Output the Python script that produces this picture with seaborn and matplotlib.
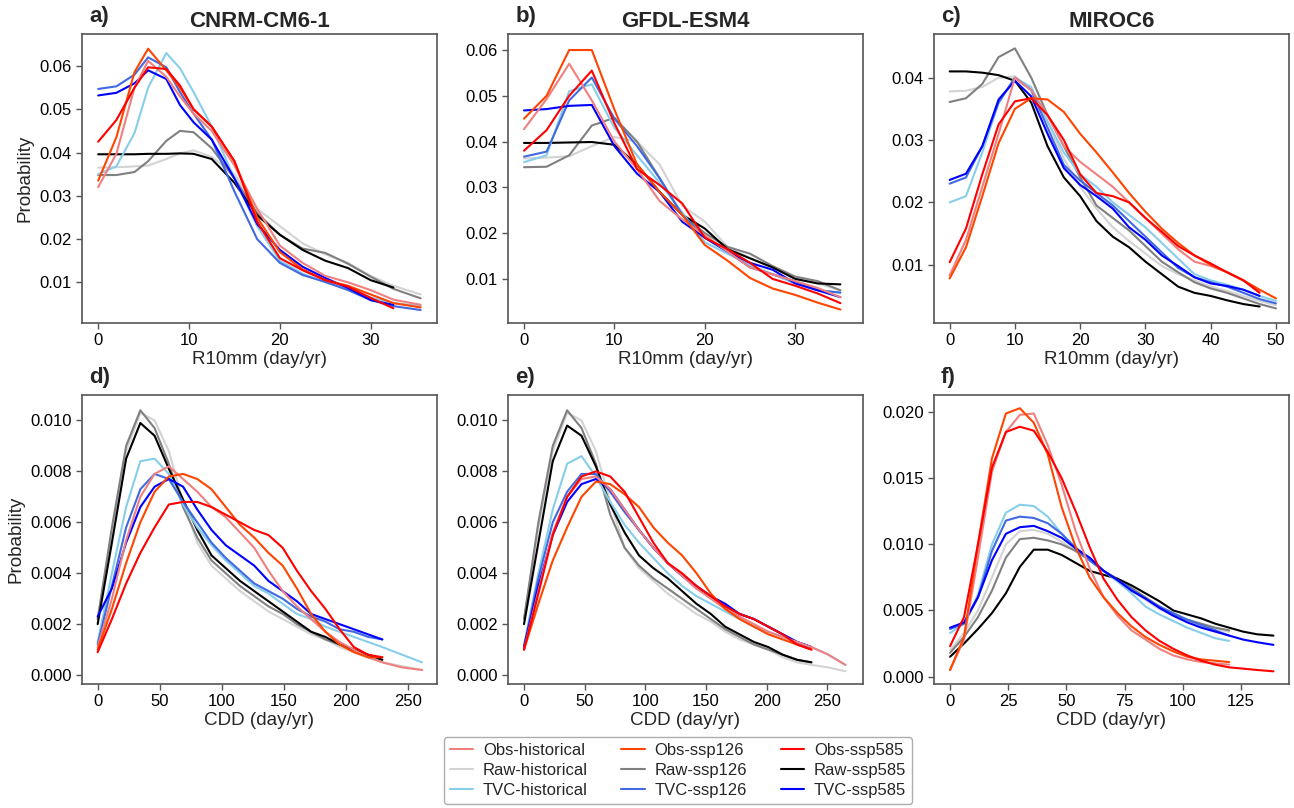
import numpy as np
import pandas as pd
import matplotlib
matplotlib.use("Agg")
import matplotlib.pyplot as plt
import matplotlib.transforms as mtransforms
from matplotlib.lines import Line2D
import seaborn as sns

# ---------------- data ----------------
series_names = ["Obs-historical", "Obs-ssp126", "Obs-ssp585",
                "Raw-historical", "Raw-ssp126", "Raw-ssp585",
                "TVC-historical", "TVC-ssp126", "TVC-ssp585"]
series_colors = ["lightcoral", "orangered", "red",
                 "lightgray", "gray", "black",
                 "skyblue", "royalblue", "blue"]

model_titles = ["CNRM-CM6-1", "GFDL-ESM4", "MIROC6"]
panel_letters = ["a)", "b)", "c)", "d)", "e)", "f)"]

# x grids
x_a = [0, 2, 4, 5.5, 7.5, 9, 10.5, 12.5, 15, 17.5, 20, 22.5, 25, 27.5, 30, 32.5, 35.5]
x_b = list(np.arange(0, 35.1, 2.5))
x_c = list(np.arange(0, 50.1, 2.5))
x_d = list(np.linspace(0, 229, 21)) + [245, 261]
x_e = list(np.linspace(0, 237, 21)) + [251, 265]
x_f = list(np.arange(0, 120.1, 6)) + [126, 132, 139]

# panel a: CNRM-CM6-1, R10mm
a_obs_hist = [0.032, 0.0397, 0.055, 0.0612, 0.0575, 0.053, 0.049, 0.045, 0.037, 0.027, 0.0185, 0.0145, 0.0115, 0.0100, 0.0082, 0.0060, 0.0048]
a_obs_126 = [0.0335, 0.0435, 0.0586, 0.064, 0.059, 0.055, 0.050, 0.046, 0.038, 0.025, 0.017, 0.013, 0.0105, 0.0092, 0.0072, 0.0052, 0.0042]
a_obs_585 = [0.0425, 0.0475, 0.055, 0.0597, 0.0593, 0.0555, 0.050, 0.046, 0.038, 0.024, 0.0156, 0.0128, 0.0105, 0.009, 0.0064, 0.0040]
a_raw_hist = [0.0365, 0.0366, 0.0368, 0.037, 0.0385, 0.0398, 0.0405, 0.039, 0.035, 0.027, 0.023, 0.019, 0.0165, 0.0145, 0.0115, 0.0092, 0.0072]
a_raw_126 = [0.0348, 0.0348, 0.0355, 0.038, 0.0427, 0.045, 0.0447, 0.041, 0.034, 0.026, 0.021, 0.0178, 0.0168, 0.0143, 0.0113, 0.0085, 0.0063]
a_raw_585 = [0.0396, 0.0396, 0.0396, 0.0397, 0.0397, 0.0398, 0.0397, 0.0385, 0.033, 0.0255, 0.021, 0.0175, 0.015, 0.0133, 0.0105, 0.0088]
a_tvc_hist = [0.035, 0.0368, 0.0445, 0.055, 0.063, 0.0595, 0.054, 0.046, 0.034, 0.023, 0.015, 0.012, 0.010, 0.0085, 0.0065, 0.0052, 0.0045]
a_tvc_126 = [0.0547, 0.0553, 0.058, 0.062, 0.0597, 0.054, 0.049, 0.043, 0.031, 0.020, 0.0145, 0.0117, 0.0101, 0.0082, 0.0059, 0.0045, 0.0036]
a_tvc_585 = [0.0532, 0.0538, 0.056, 0.059, 0.057, 0.051, 0.047, 0.043, 0.034, 0.0235, 0.0175, 0.0136, 0.011, 0.0087, 0.0059, 0.0048]

# panel b: GFDL-ESM4, R10mm
b_obs_hist = [0.0427, 0.0493, 0.057, 0.049, 0.040, 0.034, 0.027, 0.023, 0.0195, 0.016, 0.0125, 0.011, 0.0095, 0.008, 0.006]
b_obs_126 = [0.045, 0.050, 0.060, 0.060, 0.047, 0.035, 0.029, 0.024, 0.0174, 0.014, 0.0102, 0.0079, 0.0065, 0.0048, 0.0033]
b_obs_585 = [0.038, 0.0425, 0.050, 0.0555, 0.044, 0.034, 0.0305, 0.0265, 0.019, 0.0165, 0.0135, 0.0100, 0.0085, 0.0068, 0.0047]
b_raw_hist = [0.0363, 0.0365, 0.0368, 0.039, 0.041, 0.040, 0.035, 0.026, 0.0225, 0.017, 0.0145, 0.0125, 0.010, 0.009, 0.0075]
b_raw_126 = [0.0344, 0.0345, 0.037, 0.0435, 0.0452, 0.040, 0.032, 0.024, 0.020, 0.017, 0.0155, 0.0128, 0.0105, 0.0095, 0.0075]
b_raw_585 = [0.0397, 0.0397, 0.0398, 0.0399, 0.0393, 0.035, 0.029, 0.024, 0.021, 0.0165, 0.0145, 0.0125, 0.010, 0.009, 0.0088]
b_tvc_hist = [0.0355, 0.037, 0.051, 0.0525, 0.043, 0.037, 0.031, 0.0245, 0.018, 0.0155, 0.013, 0.011, 0.009, 0.0075, 0.007]
b_tvc_126 = [0.0367, 0.0378, 0.049, 0.054, 0.045, 0.039, 0.032, 0.024, 0.019, 0.016, 0.0125, 0.011, 0.0095, 0.0075, 0.007]
b_tvc_585 = [0.0468, 0.0471, 0.0478, 0.048, 0.039, 0.033, 0.029, 0.0225, 0.019, 0.016, 0.0135, 0.012, 0.009, 0.0075, 0.006]

# panel c: MIROC6, R10mm
c_obs_hist = [0.0083, 0.014, 0.0225, 0.031, 0.040, 0.038, 0.034, 0.029, 0.0265, 0.0245, 0.0225, 0.020, 0.0175, 0.015, 0.0125, 0.0105, 0.0098, 0.0088, 0.0075, 0.0058]
c_obs_126 = [0.0078, 0.0128, 0.021, 0.0295, 0.035, 0.0367, 0.0365, 0.0345, 0.031, 0.028, 0.0248, 0.0215, 0.0185, 0.0158, 0.0135, 0.0115, 0.0100, 0.0088, 0.0075, 0.006, 0.0046]
c_obs_585 = [0.0104, 0.0158, 0.0245, 0.0325, 0.0362, 0.0367, 0.034, 0.030, 0.0245, 0.0215, 0.021, 0.020, 0.0175, 0.0153, 0.013, 0.0115, 0.0102, 0.0088, 0.0075, 0.0055]
c_raw_hist = [0.0378, 0.0379, 0.0385, 0.040, 0.0402, 0.038, 0.033, 0.027, 0.0225, 0.019, 0.016, 0.0138, 0.0118, 0.0098, 0.0085, 0.0075, 0.0065, 0.0058, 0.005, 0.0042, 0.0035]
c_raw_126 = [0.0361, 0.0367, 0.039, 0.0433, 0.0447, 0.040, 0.034, 0.029, 0.024, 0.0195, 0.0175, 0.0155, 0.013, 0.0105, 0.0088, 0.0072, 0.0062, 0.0055, 0.0046, 0.0037, 0.003]
c_raw_585 = [0.041, 0.041, 0.0408, 0.0404, 0.0395, 0.036, 0.029, 0.024, 0.021, 0.017, 0.0145, 0.0128, 0.0105, 0.0085, 0.0065, 0.0055, 0.005, 0.0043, 0.0037, 0.0033]
c_tvc_hist = [0.020, 0.021, 0.028, 0.036, 0.040, 0.0385, 0.033, 0.028, 0.0245, 0.0225, 0.020, 0.018, 0.016, 0.0135, 0.011, 0.0085, 0.0075, 0.0068, 0.006, 0.005, 0.0042]
c_tvc_126 = [0.023, 0.024, 0.029, 0.036, 0.040, 0.038, 0.032, 0.026, 0.0235, 0.0215, 0.0195, 0.017, 0.0145, 0.012, 0.0095, 0.008, 0.0072, 0.0065, 0.0055, 0.0045, 0.0038]
c_tvc_585 = [0.0236, 0.0246, 0.029, 0.0365, 0.0395, 0.037, 0.031, 0.0255, 0.0228, 0.021, 0.019, 0.016, 0.014, 0.0115, 0.0098, 0.008, 0.007, 0.0066, 0.006, 0.005]

# panel d: CNRM-CM6-1, CDD
d_obs_hist = [0.0011, 0.0030, 0.0053, 0.0070, 0.0079, 0.0082, 0.0077, 0.0072, 0.0066, 0.0062, 0.0056, 0.0050, 0.0041, 0.0033, 0.0027, 0.0022, 0.0017, 0.0013, 0.0010, 0.0007, 0.0005, 0.0003, 0.0002]
d_obs_126 = [0.0010, 0.0026, 0.0044, 0.0060, 0.0072, 0.0078, 0.0079, 0.0077, 0.0073, 0.0066, 0.0059, 0.0054, 0.0048, 0.0043, 0.0034, 0.0024, 0.0017, 0.0012, 0.0009, 0.0007, 0.0007]
d_obs_585 = [0.0009, 0.0022, 0.0036, 0.0048, 0.0058, 0.0067, 0.0068, 0.0068, 0.0066, 0.0063, 0.0060, 0.0057, 0.0055, 0.0050, 0.0041, 0.0033, 0.0026, 0.0018, 0.0011, 0.0008, 0.0007]
d_raw_hist = [0.0022, 0.0056, 0.0088, 0.0103, 0.0100, 0.0088, 0.0068, 0.0052, 0.0043, 0.0038, 0.0033, 0.0029, 0.0025, 0.0022, 0.0019, 0.0016, 0.0014, 0.0011, 0.0009, 0.0007, 0.0005, 0.00035, 0.0002]
d_raw_126 = [0.0022, 0.0058, 0.0090, 0.0104, 0.0097, 0.0083, 0.0066, 0.0054, 0.0045, 0.0040, 0.0035, 0.0031, 0.0027, 0.0024, 0.0020, 0.0017, 0.0014, 0.0012, 0.0010, 0.0008, 0.0006]
d_raw_585 = [0.0020, 0.0052, 0.0085, 0.0099, 0.0094, 0.0081, 0.0069, 0.0057, 0.0047, 0.0042, 0.0037, 0.0033, 0.0029, 0.0025, 0.0021, 0.0017, 0.0015, 0.0012, 0.0010, 0.0008, 0.0006]
d_tvc_hist = [0.0013, 0.0040, 0.0066, 0.0084, 0.0085, 0.0079, 0.0067, 0.0058, 0.0051, 0.0045, 0.0040, 0.0035, 0.0032, 0.0028, 0.0024, 0.0022, 0.0019, 0.0017, 0.0015, 0.0013, 0.0011, 0.0008, 0.0005]
d_tvc_126 = [0.0012, 0.0035, 0.0058, 0.0073, 0.0079, 0.0077, 0.0068, 0.0060, 0.0052, 0.0046, 0.0041, 0.0036, 0.0033, 0.0030, 0.0026, 0.0023, 0.0021, 0.0018, 0.0017, 0.0015, 0.0014]
d_tvc_585 = [0.0023, 0.0034, 0.0052, 0.0066, 0.0074, 0.0077, 0.0074, 0.0065, 0.0057, 0.0051, 0.0047, 0.0043, 0.0037, 0.0033, 0.0029, 0.0024, 0.0022, 0.0020, 0.0018, 0.0016, 0.0014]

# panel e: GFDL-ESM4, CDD
e_obs_hist = [0.0010, 0.0033, 0.0056, 0.0070, 0.0077, 0.0078, 0.0073, 0.0065, 0.0057, 0.0050, 0.0044, 0.0039, 0.0034, 0.0030, 0.0026, 0.0023, 0.0020, 0.0017, 0.0015, 0.0013, 0.0011, 0.0008, 0.0004]
e_obs_126 = [0.0010, 0.0028, 0.0045, 0.0058, 0.0070, 0.0076, 0.0075, 0.0071, 0.0066, 0.0058, 0.0052, 0.0047, 0.0040, 0.0032, 0.0026, 0.0022, 0.0019, 0.0016, 0.0014, 0.0012, 0.0010]
e_obs_585 = [0.0010, 0.0032, 0.0055, 0.0070, 0.0078, 0.0080, 0.0078, 0.0072, 0.0062, 0.0052, 0.0044, 0.0040, 0.0035, 0.0031, 0.0027, 0.0024, 0.0022, 0.0019, 0.0016, 0.0012, 0.0010]
e_raw_hist = [0.0022, 0.0058, 0.0088, 0.0103, 0.0100, 0.0088, 0.0068, 0.0050, 0.0042, 0.0037, 0.0032, 0.0028, 0.0024, 0.0021, 0.0017, 0.0014, 0.0012, 0.0010, 0.0007, 0.0005, 0.0004, 0.0003, 0.00015]
e_raw_126 = [0.0022, 0.0060, 0.0090, 0.0104, 0.0097, 0.0083, 0.0063, 0.0050, 0.0043, 0.0038, 0.0034, 0.0030, 0.0026, 0.0022, 0.0018, 0.0015, 0.0012, 0.0010, 0.0008, 0.0006, 0.0005]
e_raw_585 = [0.0020, 0.0052, 0.0084, 0.0098, 0.0094, 0.0082, 0.0067, 0.0056, 0.0047, 0.0042, 0.0038, 0.0033, 0.0028, 0.0024, 0.0019, 0.0016, 0.0013, 0.0011, 0.0008, 0.0006, 0.0005]
e_tvc_hist = [0.0012, 0.0040, 0.0065, 0.0083, 0.0086, 0.0078, 0.0068, 0.0059, 0.0052, 0.0046, 0.0040, 0.0035, 0.0031, 0.0028, 0.0025, 0.0022, 0.0019, 0.0017, 0.0015, 0.0013, 0.0011, 0.0008, 0.0004]
e_tvc_126 = [0.0011, 0.0038, 0.0060, 0.0072, 0.0079, 0.0079, 0.0072, 0.0064, 0.0057, 0.0050, 0.0044, 0.0039, 0.0034, 0.0031, 0.0027, 0.0024, 0.0022, 0.0019, 0.0016, 0.0013, 0.0011]
e_tvc_585 = [0.0011, 0.0035, 0.0055, 0.0068, 0.0075, 0.0077, 0.0073, 0.0065, 0.0057, 0.0050, 0.0044, 0.0039, 0.0035, 0.0031, 0.0028, 0.0024, 0.0022, 0.0019, 0.0016, 0.0013, 0.0011]

# panel f: MIROC6, CDD
f_obs_hist = [0.0005, 0.0028, 0.0090, 0.0155, 0.0185, 0.0198, 0.0199, 0.0175, 0.0145, 0.0110, 0.0082, 0.0060, 0.0046, 0.0035, 0.0028, 0.0021, 0.0016, 0.0013, 0.0011, 0.0010, 0.0009]
f_obs_126 = [0.0005, 0.0030, 0.0100, 0.0165, 0.0199, 0.0203, 0.0192, 0.0168, 0.0128, 0.0098, 0.0075, 0.0060, 0.0048, 0.0038, 0.0030, 0.0024, 0.0019, 0.0015, 0.0013, 0.0012, 0.0011]
f_obs_585 = [0.0023, 0.0045, 0.0100, 0.0158, 0.0185, 0.0189, 0.0186, 0.0170, 0.0150, 0.0125, 0.0098, 0.0074, 0.0058, 0.0045, 0.0035, 0.0027, 0.0021, 0.0016, 0.0012, 0.0009, 0.0007, 0.0006, 0.0005, 0.0004]
f_raw_hist = [0.0020, 0.0033, 0.0050, 0.0075, 0.0100, 0.0110, 0.0111, 0.0108, 0.0102, 0.0095, 0.0088, 0.0080, 0.0072, 0.0065, 0.0058, 0.0051, 0.0046, 0.0042, 0.0038, 0.0036, 0.0034]
f_raw_126 = [0.0018, 0.0030, 0.0045, 0.0065, 0.0090, 0.0104, 0.0105, 0.0103, 0.0100, 0.0095, 0.0088, 0.0080, 0.0074, 0.0067, 0.0060, 0.0053, 0.0047, 0.0043, 0.0040, 0.0037, 0.0035]
f_raw_585 = [0.0015, 0.0025, 0.0036, 0.0048, 0.0063, 0.0083, 0.0096, 0.0096, 0.0092, 0.0086, 0.0080, 0.0077, 0.0074, 0.0069, 0.0063, 0.0057, 0.0050, 0.0047, 0.0044, 0.0040, 0.0037, 0.0034, 0.0032, 0.0031]
f_tvc_hist = [0.0033, 0.0040, 0.0062, 0.0100, 0.0124, 0.0130, 0.0129, 0.0121, 0.0108, 0.0098, 0.0088, 0.0080, 0.0072, 0.0063, 0.0053, 0.0047, 0.0042, 0.0037, 0.0033, 0.0029, 0.0027]
f_tvc_126 = [0.0036, 0.0040, 0.0060, 0.0095, 0.0118, 0.0121, 0.0120, 0.0116, 0.0108, 0.0097, 0.0088, 0.0080, 0.0073, 0.0066, 0.0059, 0.0053, 0.0048, 0.0043, 0.0039, 0.0035, 0.0031]
f_tvc_585 = [0.0037, 0.0041, 0.0060, 0.0088, 0.0108, 0.0113, 0.0114, 0.0110, 0.0105, 0.0097, 0.0090, 0.0080, 0.0073, 0.0065, 0.0059, 0.0052, 0.0046, 0.0041, 0.0037, 0.0034, 0.0031, 0.0028, 0.0026, 0.0024]

# axis tick labels
r10_ticks_ab = [0, 10, 20, 30]
r10_ticks_c = [0, 10, 20, 30, 40, 50]
cdd_ticks_de = [0, 50, 100, 150, 200, 250]
cdd_ticks_f = [0, 25, 50, 75, 100, 125]
y_ticks_ab = [0.01, 0.02, 0.03, 0.04, 0.05, 0.06]
y_ticks_c = [0.01, 0.02, 0.03, 0.04]
y_ticks_de = [0.000, 0.002, 0.004, 0.006, 0.008, 0.010]
y_ticks_f = [0.000, 0.005, 0.010, 0.015, 0.020]

# ---------------- assemble ----------------
panels = [
    (x_a, [a_obs_hist, a_obs_126, a_obs_585, a_raw_hist, a_raw_126, a_raw_585, a_tvc_hist, a_tvc_126, a_tvc_585]),
    (x_b, [b_obs_hist, b_obs_126, b_obs_585, b_raw_hist, b_raw_126, b_raw_585, b_tvc_hist, b_tvc_126, b_tvc_585]),
    (x_c, [c_obs_hist, c_obs_126, c_obs_585, c_raw_hist, c_raw_126, c_raw_585, c_tvc_hist, c_tvc_126, c_tvc_585]),
    (x_d, [d_obs_hist, d_obs_126, d_obs_585, d_raw_hist, d_raw_126, d_raw_585, d_tvc_hist, d_tvc_126, d_tvc_585]),
    (x_e, [e_obs_hist, e_obs_126, e_obs_585, e_raw_hist, e_raw_126, e_raw_585, e_tvc_hist, e_tvc_126, e_tvc_585]),
    (x_f, [f_obs_hist, f_obs_126, f_obs_585, f_raw_hist, f_raw_126, f_raw_585, f_tvc_hist, f_tvc_126, f_tvc_585]),
]

sns.set_style("ticks")
plt.rcParams["font.family"] = ["Liberation Sans", "DejaVu Sans"]
plt.rcParams["axes.edgecolor"] = "#555555"
plt.rcParams["xtick.color"] = "#555555"
plt.rcParams["ytick.color"] = "#555555"
plt.rcParams["xtick.labelcolor"] = "black"
plt.rcParams["ytick.labelcolor"] = "black"
plt.rcParams["axes.linewidth"] = 1.2

palette = dict(zip(series_names, series_colors))

fig = plt.figure(figsize=(12.94, 8.08), dpi=100)
W, H = 1294.0, 808.0
lefts = [82, 508, 934]
tops = [34, 395]
aw, ah = 355, 289

xlims = [(-1.78, 37.3), (-1.77, 37.5), (-2.4, 52.0), (-12.6, 273), (-13.2, 279.5), (-6.9, 145.7)]
ylims = [(0.0006, 0.0674), (0.00036, 0.0635), (0.00066, 0.047), (-0.00035, 0.011), (-0.00035, 0.011), (-0.00056, 0.0213)]
xticks = [r10_ticks_ab, r10_ticks_ab, r10_ticks_c, cdd_ticks_de, cdd_ticks_de, cdd_ticks_f]
yticks = [y_ticks_ab, y_ticks_ab, y_ticks_c, y_ticks_de, y_ticks_de, y_ticks_f]
yfmt = ["%.2f", "%.2f", "%.2f", "%.3f", "%.3f", "%.3f"]

draw_order = ["Raw-historical", "Raw-ssp126", "Raw-ssp585",
              "TVC-historical", "TVC-ssp126", "TVC-ssp585",
              "Obs-historical", "Obs-ssp126", "Obs-ssp585"]

for i, (xg, ys) in enumerate(panels):
    r, c = divmod(i, 3)
    ax = fig.add_axes([lefts[c] / W, 1 - (tops[r] + ah) / H, aw / W, ah / H])
    rows = []
    for name, yv in zip(series_names, ys):
        for xv, v in zip(xg[:len(yv)], yv):
            rows.append((name, xv, v))
    df = pd.DataFrame(rows, columns=["series", "x", "y"])
    sns.lineplot(data=df, x="x", y="y", hue="series", hue_order=draw_order,
                 palette=palette, estimator=None, sort=False, linewidth=1.5,
                 legend=False, ax=ax)
    ax.set_xlim(*xlims[i])
    ax.set_ylim(*ylims[i])
    ax.set_xticks(xticks[i])
    ax.set_yticks(yticks[i])
    ax.set_yticklabels([yfmt[i] % t for t in yticks[i]])
    ax.tick_params(labelsize=12, length=4, width=1.0)
    ax.set_xlabel("R10mm (day/yr)" if r == 0 else "CDD (day/yr)", fontsize=13.6, labelpad=2)
    ax.set_ylabel("Probability" if c == 0 else "", fontsize=13.6)
    for s in ax.spines.values():
        s.set_visible(True)
    if r == 0:
        ax.set_title(model_titles[c], fontsize=16, fontweight="bold", pad=5)
    trans = mtransforms.offset_copy(ax.transAxes, fig=fig, x=0, y=5, units="points")
    ax.text(0.02, 1.0, panel_letters[i], transform=trans, ha="left", va="bottom",
            fontsize=16, fontweight="bold")

handles = []
labels = []
for name in ["Obs-historical", "Raw-historical", "TVC-historical",
             "Obs-ssp126", "Raw-ssp126", "TVC-ssp126",
             "Obs-ssp585", "Raw-ssp585", "TVC-ssp585"]:
    handles.append(Line2D([0], [0], color=palette[name], lw=1.5))
    labels.append(name)
leg = fig.legend(handles, labels, ncol=3, loc="upper center",
                 bbox_to_anchor=(678 / W, 1 - 729 / H), fontsize=12,
                 frameon=True, handlelength=1.4, columnspacing=2.0,
                 labelspacing=0.3, borderpad=0.35, handletextpad=0.6,
                 fancybox=True)
leg.get_frame().set_edgecolor("#999999")

fig.savefig("out.png", dpi=100)
